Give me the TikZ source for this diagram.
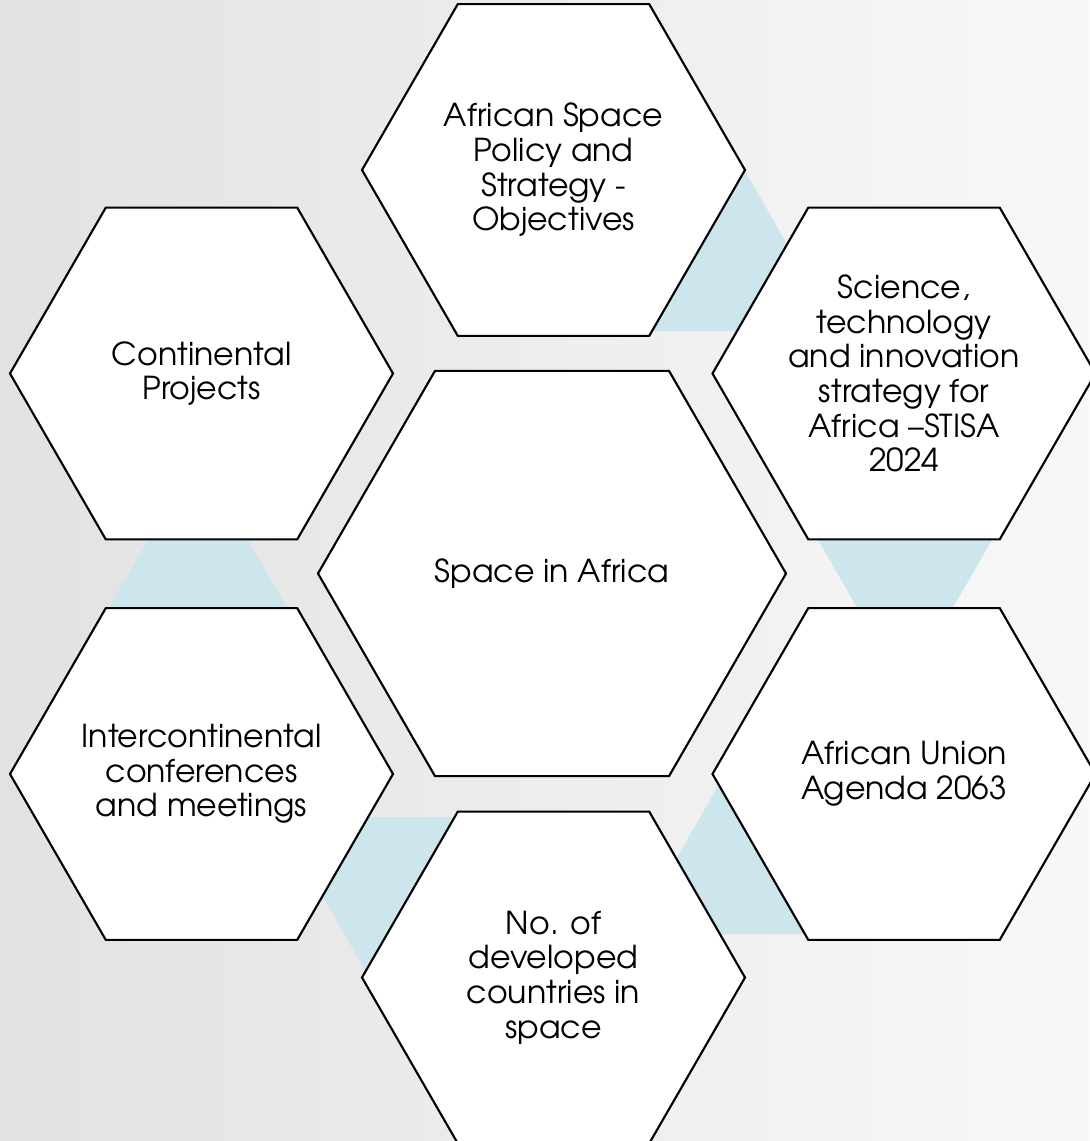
\documentclass[tikz,border=0pt]{standalone}
\usepackage{fontspec}
\setmainfont{TeX Gyre Adventor}
\definecolor{bgleft}{RGB}{226,226,226}
\definecolor{bgright}{RGB}{248,248,248}
\definecolor{conn}{RGB}{205,229,236}
\tikzset{
  hexline/.style={draw=black, fill=white, line width=1.6pt, line join=miter},
  hextext/.style={align=center, inner sep=0pt, font=\fontsize{23.7}{26}\selectfont},
  bigtext/.style={align=center, inner sep=0pt, font=\fontsize{23.7}{26}\selectfont},
  connfill/.style={fill=conn, draw=none}
}
\newcommand\hexat[6]{%
  \draw[hexline] ({#2+#4},{#3}) -- ({#2+#4/2},{#3-0.8660254*#4}) -- ({#2-#4/2},{#3-0.8660254*#4})
    -- ({#2-#4},{#3}) -- ({#2-#4/2},{#3+0.8660254*#4}) -- ({#2+#4/2},{#3+0.8660254*#4}) -- cycle;
  \node[#6] (#1) at (#2,#3) {#5};}
\begin{document}
\begin{tikzpicture}[x=0.75pt,y=-0.75pt]
\useasboundingbox (0,0) rectangle (1089,1141);
\shade[left color=bgleft, right color=bgright] (0,0) rectangle (1089,1141);
% connector triangles
\fill[connfill] (745,171) -- (653,331) -- (837,331) -- cycle;
\fill[connfill] (198,453) -- (106,613) -- (290,613) -- cycle;
\fill[connfill] (905,691) -- (813,531) -- (997,531) -- cycle;
\fill[connfill] (369,977) -- (277,817) -- (461,817) -- cycle;
\fill[connfill] (725,774) -- (633,934) -- (817,934) -- cycle;
% hexagons
\hexat{top}{553.5}{170}{191.5}{African Space\\Policy and\\Strategy -\\Objectives}{hextext}
\hexat{ul}{201.5}{373.5}{191.5}{Continental\\Projects}{hextext}
\hexat{ur}{904}{373.5}{191.5}{Science,\\technology\\and innovation\\strategy for\\Africa –STISA\\2024}{hextext}
\hexat{ll}{201.5}{774}{191.5}{Intercontinental\\conferences\\and meetings}{hextext}
\hexat{lr}{904}{774}{191.5}{African Union\\Agenda 2063}{hextext}
\hexat{bot}{553.5}{977.5}{191.5}{No. of\\developed\\countries in\\space}{hextext}
\hexat{ctr}{552}{573.5}{234}{Space in Africa}{bigtext}
\end{tikzpicture}
\end{document}
